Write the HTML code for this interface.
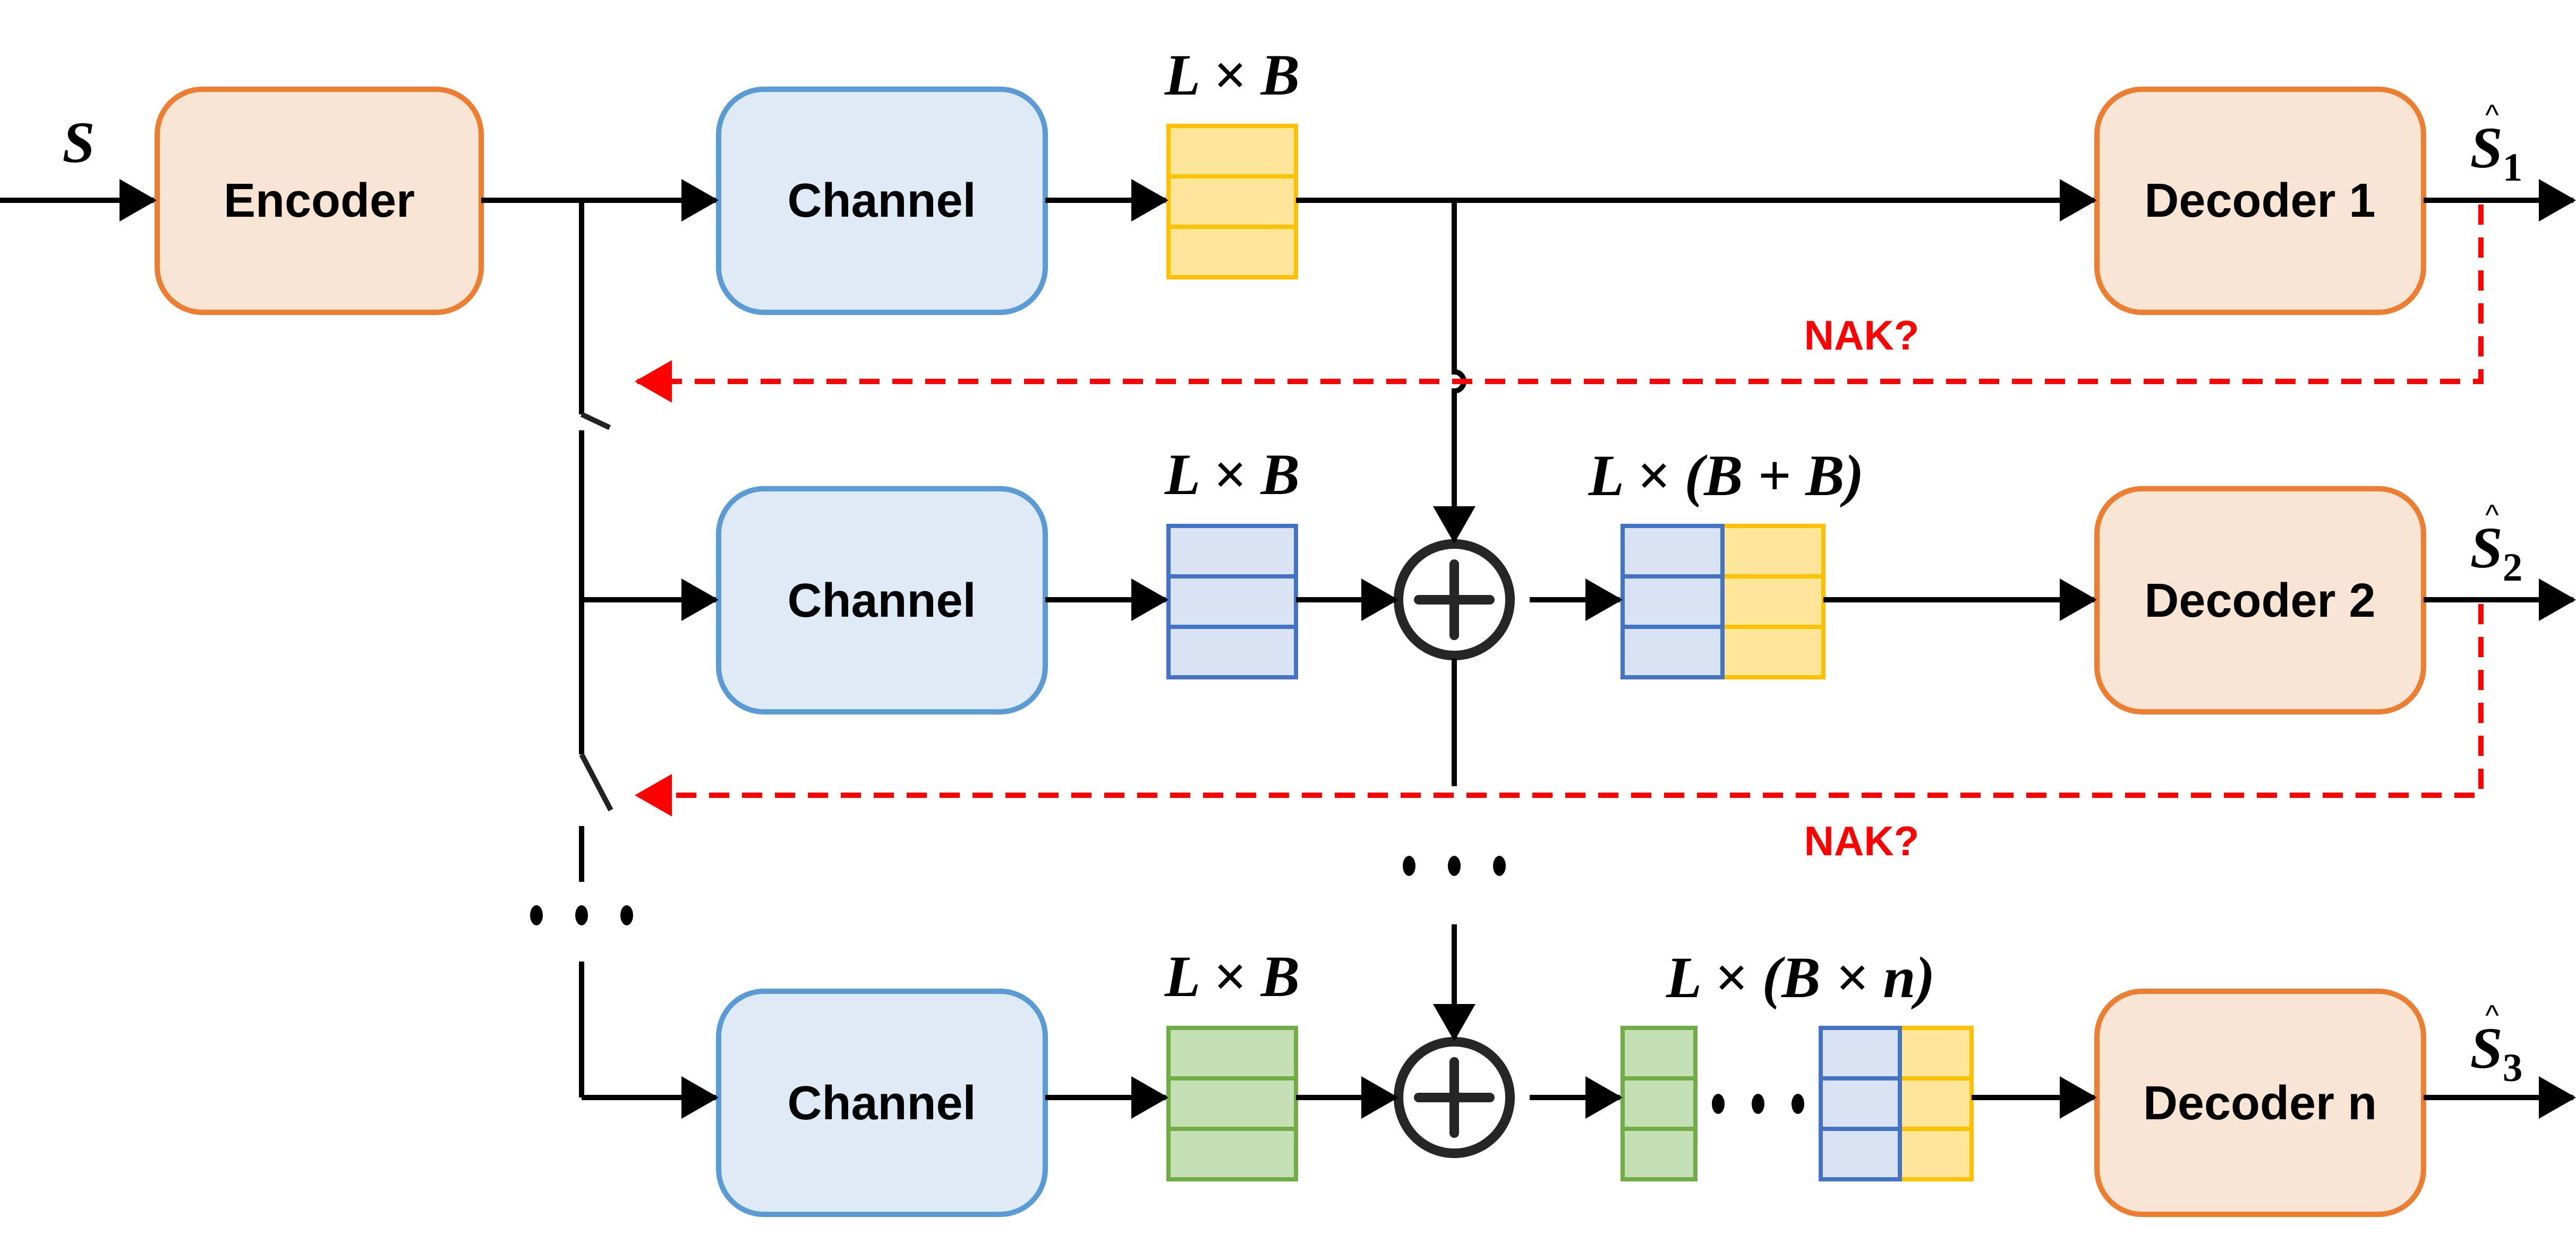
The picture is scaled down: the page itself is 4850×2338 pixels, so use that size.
<!DOCTYPE html>
<html><head><meta charset="utf-8"><style>html,body{margin:0;padding:0;background:#fff}svg{display:block}</style></head>
<body>
<svg width="4850" height="2338" viewBox="0 0 4850 2338" xmlns="http://www.w3.org/2000/svg">
<defs>
<marker id="ar" markerWidth="7" markerHeight="8" refX="6.5" refY="4" orient="auto" markerUnits="strokeWidth"><path d="M0,0 L7,4 L0,8 z" fill="#000"/></marker>
<marker id="rr" markerWidth="7" markerHeight="8" refX="6.5" refY="4" orient="auto" markerUnits="strokeWidth"><path d="M0,0 L7,4 L0,8 z" fill="#f00"/></marker>
</defs>
<g font-family="Liberation Sans, sans-serif" font-weight="bold" font-size="90" text-anchor="middle">
<rect x="296" y="168" width="610" height="420" rx="85" fill="#fae5d5" stroke="#ed7d31" stroke-width="10"/>
<text x="601" y="408">Encoder</text>
<g fill="#deebf7" stroke="#5b9bd5" stroke-width="10">
<rect x="1353" y="168" width="615" height="420" rx="85"/>
<rect x="1353" y="920" width="615" height="420" rx="85"/>
<rect x="1353" y="1866" width="615" height="420" rx="85"/>
</g>
<text x="1660" y="408">Channel</text>
<text x="1660" y="1161">Channel</text>
<text x="1660" y="2107">Channel</text>
<g fill="#fae5d5" stroke="#ed7d31" stroke-width="10">
<rect x="3948" y="168" width="615" height="420" rx="85"/>
<rect x="3948" y="920" width="615" height="420" rx="85"/>
<rect x="3948" y="1866" width="615" height="420" rx="85"/>
</g>
<text x="4255" y="408">Decoder 1</text>
<text x="4255" y="1161">Decoder 2</text>
<text x="4255" y="2107">Decoder n</text>
</g>
<g stroke-width="8">
<g fill="#ffe699" stroke="#ffc000"><rect x="2200" y="237" width="240" height="95"/><rect x="2200" y="332" width="240" height="95"/><rect x="2200" y="427" width="240" height="95"/></g>
<g fill="#dae3f3" stroke="#4472c4"><rect x="2200" y="990" width="240" height="95"/><rect x="2200" y="1085" width="240" height="95"/><rect x="2200" y="1180" width="240" height="95"/></g>
<g fill="#c5e0b4" stroke="#70ad47"><rect x="2200" y="1935" width="240" height="95"/><rect x="2200" y="2030" width="240" height="95"/><rect x="2200" y="2125" width="240" height="95"/></g>
<g fill="#ffe699" stroke="#ffc000"><rect x="3243" y="990" width="190" height="95"/><rect x="3243" y="1085" width="190" height="95"/><rect x="3243" y="1180" width="190" height="95"/></g>
<g fill="#dae3f3" stroke="#4472c4"><rect x="3055" y="990" width="188" height="95"/><rect x="3055" y="1085" width="188" height="95"/><rect x="3055" y="1180" width="188" height="95"/></g>
<g fill="#c5e0b4" stroke="#70ad47"><rect x="3055" y="1935" width="137" height="95"/><rect x="3055" y="2030" width="137" height="95"/><rect x="3055" y="2125" width="137" height="95"/></g>
<g fill="#ffe699" stroke="#ffc000"><rect x="3577" y="1935" width="135" height="95"/><rect x="3577" y="2030" width="135" height="95"/><rect x="3577" y="2125" width="135" height="95"/></g>
<g fill="#dae3f3" stroke="#4472c4"><rect x="3428" y="1935" width="149" height="95"/><rect x="3428" y="2030" width="149" height="95"/><rect x="3428" y="2125" width="149" height="95"/></g>
</g>
<g fill="none" stroke="#262626" stroke-width="18">
<circle cx="2738" cy="1129" r="105"/><circle cx="2738" cy="2066" r="105"/>
<path d="M2738,1062 V1196 M2671,1129 H2805 M2738,1999 V2133 M2671,2066 H2805" stroke-width="18" stroke-linecap="round"/>
</g>
<g stroke="#000" stroke-width="10" fill="none">
<line x1="0" y1="377" x2="290" y2="377" marker-end="url(#ar)"/>
<line x1="906" y1="377" x2="1348" y2="377" marker-end="url(#ar)"/>
<line x1="1968" y1="377" x2="2195" y2="377" marker-end="url(#ar)"/>
<line x1="2440" y1="377" x2="3943" y2="377" marker-end="url(#ar)"/>
<line x1="4563" y1="377" x2="4845" y2="377" marker-end="url(#ar)"/>
<line x1="1095" y1="377" x2="1095" y2="780"/>
<line x1="1095" y1="780" x2="1148" y2="805" stroke="#222"/>
<line x1="1095" y1="810" x2="1095" y2="1130"/>
<line x1="1095" y1="1129" x2="1348" y2="1129" marker-end="url(#ar)"/>
<line x1="1095" y1="1129" x2="1095" y2="1420"/>
<line x1="1095" y1="1420" x2="1150" y2="1525" stroke="#222"/>
<line x1="1095" y1="1555" x2="1095" y2="1660"/>
<line x1="1095" y1="1810" x2="1095" y2="2066"/>
<line x1="1095" y1="2066" x2="1348" y2="2066" marker-end="url(#ar)"/>
<line x1="1968" y1="1129" x2="2195" y2="1129" marker-end="url(#ar)"/>
<line x1="2440" y1="1129" x2="2628" y2="1129" marker-end="url(#ar)"/>
<line x1="2880" y1="1129" x2="3050" y2="1129" marker-end="url(#ar)"/>
<line x1="3433" y1="1129" x2="3943" y2="1129" marker-end="url(#ar)"/>
<line x1="4563" y1="1129" x2="4845" y2="1129" marker-end="url(#ar)"/>
<line x1="1968" y1="2066" x2="2195" y2="2066" marker-end="url(#ar)"/>
<line x1="2440" y1="2066" x2="2628" y2="2066" marker-end="url(#ar)"/>
<line x1="2880" y1="2066" x2="3050" y2="2066" marker-end="url(#ar)"/>
<line x1="3712" y1="2066" x2="3943" y2="2066" marker-end="url(#ar)"/>
<line x1="4563" y1="2066" x2="4845" y2="2066" marker-end="url(#ar)"/>
<path d="M2738,377 V700 A18,18 0 0 1 2738,736 V1018" marker-end="url(#ar)"/>
<line x1="2738" y1="1240" x2="2738" y2="1480"/>
<line x1="2738" y1="1740" x2="2738" y2="1955" marker-end="url(#ar)"/>
</g>
<g stroke="#f00" stroke-width="10" fill="none" stroke-dasharray="38,24">
<path d="M4671,385 V718 H1200" marker-end="url(#rr)"/>
<path d="M4671,1137 V1497 H1200" marker-end="url(#rr)"/>
</g>
<g font-family="Liberation Sans, sans-serif" font-weight="bold" font-size="78" fill="#f00" text-anchor="middle">
<text x="3505" y="658">NAK?</text>
<text x="3505" y="1610">NAK?</text>
</g>
<g fill="#000">
<ellipse cx="1010" cy="1723" rx="12" ry="19"/><ellipse cx="1095" cy="1723" rx="12" ry="19"/><ellipse cx="1180" cy="1723" rx="12" ry="19"/>
<ellipse cx="2653" cy="1630" rx="12" ry="19"/><ellipse cx="2738" cy="1630" rx="12" ry="19"/><ellipse cx="2823" cy="1630" rx="12" ry="19"/>
<ellipse cx="3235" cy="2078" rx="12" ry="19"/><ellipse cx="3310" cy="2078" rx="12" ry="19"/><ellipse cx="3385" cy="2078" rx="12" ry="19"/>
</g>
<g font-family="Liberation Serif, serif" font-weight="bold" font-style="italic" font-size="110" text-anchor="middle" fill="#000">
<text x="148" y="305">S</text>
<text x="2320" y="178">L × B</text>
<text x="2320" y="930">L × B</text>
<text x="2320" y="1875">L × B</text>
<text x="3250" y="932">L × (B + B)</text>
<text x="3390" y="1877">L × (B × n)</text>
<text x="4700" y="315">S<tspan font-size="75" font-style="normal" dy="25">1</tspan></text>
<text x="4700" y="1068">S<tspan font-size="75" font-style="normal" dy="25">2</tspan></text>
<text x="4700" y="2010">S<tspan font-size="75" font-style="normal" dy="25">3</tspan></text>
</g>
<g font-family="Liberation Sans, sans-serif" font-size="55" text-anchor="middle" fill="#000">
<text x="4692" y="235">^</text><text x="4692" y="988">^</text><text x="4692" y="1930">^</text>
</g>
</svg>
</body></html>
